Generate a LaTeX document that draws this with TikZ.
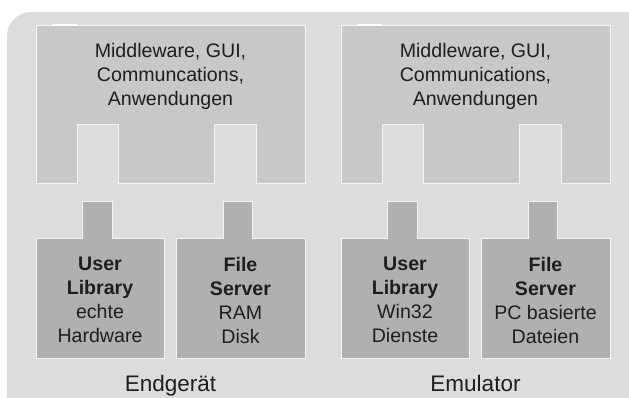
\documentclass[tikz,border=0pt]{standalone}
\usepackage{fontspec}
\setmainfont{Liberation Sans}
\definecolor{panelgray}{HTML}{DCDCDD}
\definecolor{topgray}{HTML}{C8C8C9}
\definecolor{libgray}{HTML}{B0B0B0}
\definecolor{edgewhite}{HTML}{F4F4F4}
\definecolor{txt}{HTML}{1E1E1E}
\begin{document}
\begin{tikzpicture}[x=1pt,y=-1pt,
  topbox/.style={fill=topgray,draw=edgewhite,line width=0.9pt},
  libbox/.style={fill=libgray,draw=edgewhite,line width=0.9pt},
  lbl/.style={align=center,text=txt,font=\fontsize{19.6}{24}\selectfont,inner sep=0pt},
  caption/.style={text=txt,font=\fontsize{22.5}{26}\selectfont,inner sep=0pt,anchor=base}]
\useasboundingbox (0,0) rectangle (629,397);
\begin{scope}
\clip (0,0) rectangle (629,397);
\fill[white] (0,0) rectangle (629,397);
\fill[panelgray,rounded corners=24pt] (7,12) rectangle (650,420);
\end{scope}
% upper boxes
\foreach \ox/\n in {0/L,305/R}{
  \begin{scope}[xshift=\ox]
  \draw[topbox] (36,25) -- (305,25) -- (305,183) -- (256,183) -- (256,124) -- (214,124)
    -- (214,183) -- (118,183) -- (118,124) -- (77,124) -- (77,183) -- (36,183) -- cycle;
  \draw[white,line width=1.4pt] (52,25) -- (77,25);
  \draw[libbox] (36,238) -- (82,238) -- (82,201) -- (112,201) -- (112,238) -- (164,238)
    -- (164,358) -- (36,358) -- cycle;
  \draw[libbox] (176,238) -- (223,238) -- (223,201) -- (252,201) -- (252,238) -- (305,238)
    -- (305,358) -- (176,358) -- cycle;
  \end{scope}
}
\node[lbl] (midL) at (170.5,76) {Middleware, GUI,\\Communcations,\\Anwendungen};
\node[lbl] (midR) at (475.5,76) {Middleware, GUI,\\Communications,\\Anwendungen};
\node[lbl] (ulL) at (100,300) {\textbf{User}\\\textbf{Library}\\echte\\Hardware};
\node[lbl] (fsL) at (240.5,300) {\textbf{File}\\\textbf{Server}\\RAM\\Disk};
\node[lbl] (ulR) at (405,300) {\textbf{User}\\\textbf{Library}\\Win32\\Dienste};
\node[lbl] (fsR) at (545.5,300) {\textbf{File}\\\textbf{Server}\\PC basierte\\Dateien};
\node[caption] (capL) at (170.5,391.5) {Endgerät};
\node[caption] (capR) at (475.5,391.5) {Emulator};
\end{tikzpicture}
\end{document}
